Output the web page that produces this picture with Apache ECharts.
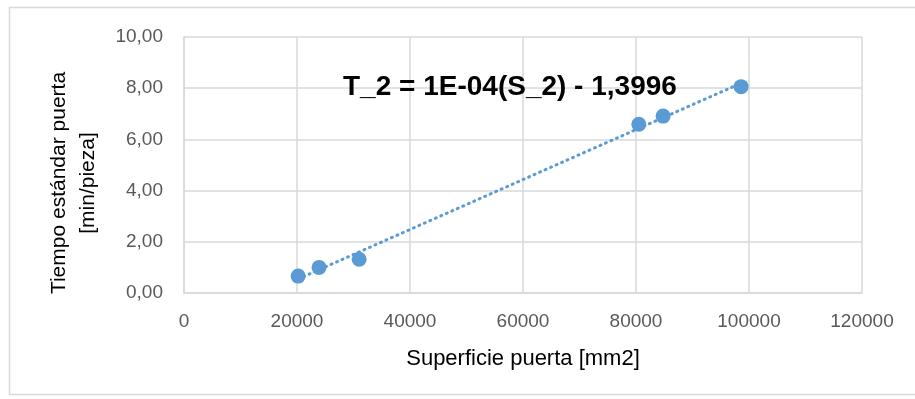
<!DOCTYPE html>
<html>
<head>
<meta charset="utf-8">
<script src="https://cdn.jsdelivr.net/npm/echarts@6/dist/echarts.min.js"></script>
<style>
  html, body { margin: 0; padding: 0; background: #fff; }
  #main { width: 915px; height: 399px; }
</style>
</head>
<body>
<div id="main"></div>
<script>
// superficie puerta [mm2] y tiempo estandar [min/pieza]
var superficie = [20200, 23900, 31000, 80500, 84800, 98600];
var tiempo = [0.66, 1.00, 1.32, 6.59, 6.91, 8.06];
var ecuacion = 'T_2 = 1E-04(S_2) - 1,3996';

var puntos = superficie.map(function (s, i) { return [s, tiempo[i]]; });

// linea de tendencia por minimos cuadrados
var n = superficie.length, sx = 0, sy = 0, sxx = 0, sxy = 0;
for (var i = 0; i < n; i++) {
    sx += superficie[i]; sy += tiempo[i];
    sxx += superficie[i] * superficie[i]; sxy += superficie[i] * tiempo[i];
}
var pendiente = (n * sxy - sx * sy) / (n * sxx - sx * sx);
var corte = (sy - pendiente * sx) / n;
var xMin = Math.min.apply(null, superficie), xMax = Math.max.apply(null, superficie);
var tendencia = [[xMin, pendiente * xMin + corte], [xMax, pendiente * xMax + corte]];

var fuente = '"Liberation Sans", Arial, sans-serif';

var myChart = echarts.init(document.getElementById('main'));

var option = {
    animation: false,
    grid: {
        left: 184,
        right: 53,
        top: 37,
        bottom: 106
    },
    graphic: [
        {
            type: 'rect',
            shape: {x: 9.5, y: 7.5, width: 930, height: 387},
            style: {fill: 'none', stroke: '#d9d9d9', lineWidth: 1.5},
            silent: true
        },
        {
            type: 'text',
            x: 343,
            y: 87,
            style: {
                text: ecuacion,
                font: 'bold 28px ' + fuente,
                fill: '#000',
                verticalAlign: 'middle'
            },
            z: 10
        },
        {
            type: 'text',
            x: 74,
            y: 183,
            rotation: Math.PI / 2,
            style: {
                text: 'Tiempo estándar puerta\n[min/pieza]',
                font: '21px ' + fuente,
                lineHeight: 29,
                fill: '#000',
                align: 'center',
                verticalAlign: 'middle'
            }
        }
    ],
    xAxis: {
        type: 'value',
        min: 0,
        max: 120000,
        interval: 20000,
        name: 'Superficie puerta [mm2]',
        nameLocation: 'middle',
        nameGap: 55,
        nameTextStyle: {
            color: '#000',
            fontSize: 22,
            fontFamily: fuente
        },
        axisLine: {show: true, lineStyle: {color: '#d9d9d9', width: 1.5}},
        axisTick: {show: false},
        axisLabel: {
            color: '#595959',
            fontSize: 19,
            margin: 19,
            fontFamily: fuente,
            formatter: function (v) { return String(v); }
        },
        splitLine: {show: true, lineStyle: {color: '#d9d9d9', width: 1.5}}
    },
    yAxis: {
        type: 'value',
        min: 0,
        max: 10,
        interval: 2,
        axisLine: {show: true, lineStyle: {color: '#d9d9d9', width: 1.5}},
        axisTick: {show: false},
        axisLabel: {
            color: '#595959',
            fontSize: 19,
            margin: 21,
            fontFamily: fuente,
            formatter: function (v) { return v.toFixed(2).replace('.', ','); }
        },
        splitLine: {show: true, lineStyle: {color: '#d9d9d9', width: 1.5}}
    },
    series: [
        {
            type: 'line',
            data: tendencia,
            symbol: 'none',
            lineStyle: {color: '#5b9bd5', width: 3, type: [1, 5], cap: 'round'},
            z: 1
        },
        {
            type: 'scatter',
            data: puntos,
            symbolSize: 15,
            itemStyle: {color: '#5b9bd5', opacity: 1},
            z: 2
        }
    ]
};
myChart.setOption(option);
</script>
</body>
</html>
